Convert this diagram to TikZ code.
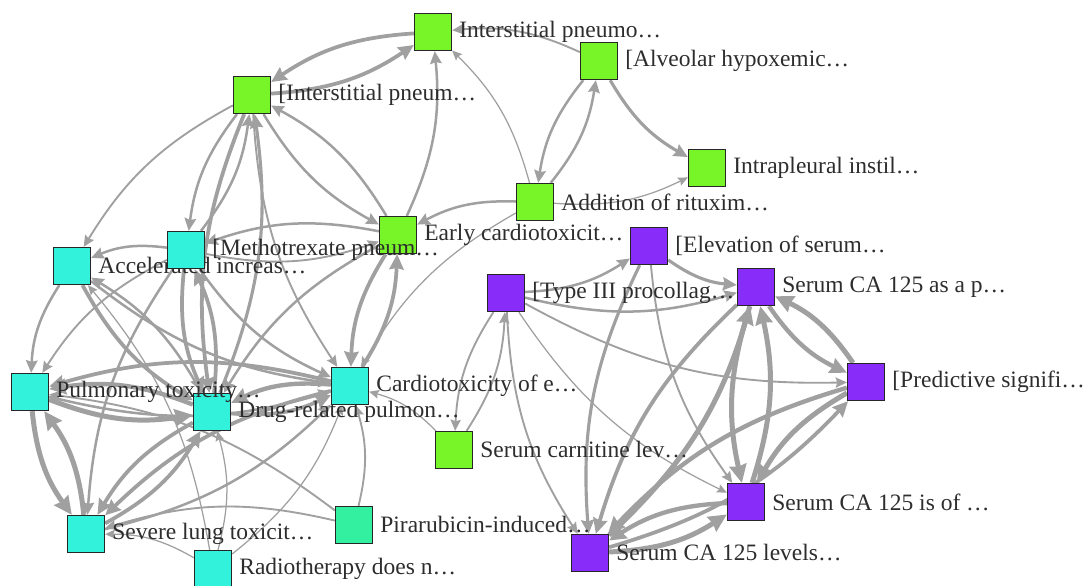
\documentclass[tikz,border=0pt]{standalone}
\usepackage{fontspec}
\setmainfont{Liberation Serif}
\usetikzlibrary{arrows.meta}
\pgfdeclarelayer{background}
\pgfsetlayers{background,main}
\definecolor{grn}{RGB}{120,245,40}
\definecolor{cyn}{RGB}{50,242,220}
\definecolor{mnt}{RGB}{50,240,160}
\definecolor{prp}{RGB}{136,44,250}
\definecolor{lnk}{RGB}{160,160,160}
\definecolor{txt}{RGB}{45,45,45}
\tikzset{
	sq/.style={draw=black!85,line width=1.3pt,minimum size=37pt,inner sep=0pt},
	lbl/.style={anchor=west,inner sep=0pt,xshift=7pt,text=txt,font=\fontsize{23.5}{28}\selectfont},
	link/.style={draw=lnk,-{Stealth[length=7pt 2.2,width=6pt 2.2,inset=1.5pt]}}
}
\begin{document}
\begin{tikzpicture}[x=1pt,y=-1pt]
\useasboundingbox (0,0) rectangle (1084,586);
\foreach \n/\x/\y/\c/\t in {
	ip/433/32/grn/{Interstitial pneumo…},
	alv/599/61/grn/{[Alveolar hypoxemic…},
	ipn/252/95/grn/{[Interstitial pneum…},
	intra/707/168/grn/{Intrapleural instil…},
	ritux/535/202/grn/{Addition of rituxim…},
	early/398/235/grn/{Early cardiotoxicit…},
	elev/649/246/prp/{[Elevation of serum…},
	accel/72/266/cyn/{Accelerated increas…},
	mtx/186/250/cyn/{[Methotrexate pneum…},
	type3/506/293/prp/{[Type III procollag…},
	capa/756/287/prp/{Serum CA 125 as a p…},
	drug/212/412/cyn/{Drug-related pulmon…},
	pulm/30/392/cyn/{Pulmonary toxicity…},
	cardio/350/386/cyn/{Cardiotoxicity of e…},
	pred/866/382/prp/{[Predictive signifi…},
	carn/454/450/grn/{Serum carnitine lev…},
	caof/746/502/prp/{Serum CA 125 is of …},
	pira/354/525/mnt/{Pirarubicin-induced…},
	severe/86/534/cyn/{Severe lung toxicit…},
	calev/590/553/prp/{Serum CA 125 levels…},
	radio/213/569/cyn/{Radiotherapy does n…}}
{
	\node[sq,fill=\c] (\n) at (\x,\y) {};
	\node[lbl] at (\n.east) {\t};
}
\begin{pgfonlayer}{background}
\foreach \a/\b/\w in {
	ipn/ip/3, ip/ipn/3, early/ip/2, ritux/ip/1, alv/ip/1.5, alv/ritux/2, ritux/alv/2,
	alv/intra/2.5, ritux/intra/1, ritux/early/2, ritux/cardio/1,
	ipn/accel/1.5, ipn/mtx/2, mtx/ipn/2, ipn/drug/3, drug/ipn/2.5, ipn/cardio/1.5, ipn/early/2, early/ipn/2,
	mtx/accel/2, early/mtx/2, mtx/early/1.5, mtx/drug/3, drug/mtx/3, mtx/cardio/2, mtx/pulm/1.5, mtx/severe/2,
	accel/pulm/2, accel/drug/3, drug/accel/2, accel/cardio/2,
	pulm/severe/4, severe/pulm/4, pulm/drug/4, drug/pulm/3.5, cardio/pulm/3, pulm/cardio/2,
	cardio/drug/3.5, drug/cardio/3, cardio/severe/3, severe/cardio/2, drug/severe/3, severe/drug/3,
	early/cardio/3, cardio/early/3, early/drug/2,
	pira/severe/1.5, pira/pulm/1.5, pira/cardio/1.5,
	radio/cardio/1, radio/drug/1, radio/accel/1, radio/severe/1,
	carn/cardio/1, type3/carn/1.5, carn/type3/1.5,
	type3/elev/2, type3/capa/2, elev/capa/2.5, type3/pred/1.5, type3/caof/1, type3/calev/1.5,
	elev/calev/2.5, elev/caof/1.5,
	capa/pred/3.5, pred/capa/4, capa/caof/4, caof/capa/4, calev/capa/4, capa/calev/3,
	pred/caof/4, pred/calev/3.5, calev/pred/3, calev/caof/4, caof/calev/3.5}
{
	\draw[link,line width=1.25*\w pt] (\a) to[bend right=15] (\b);
}
\end{pgfonlayer}
\end{tikzpicture}
\end{document}
